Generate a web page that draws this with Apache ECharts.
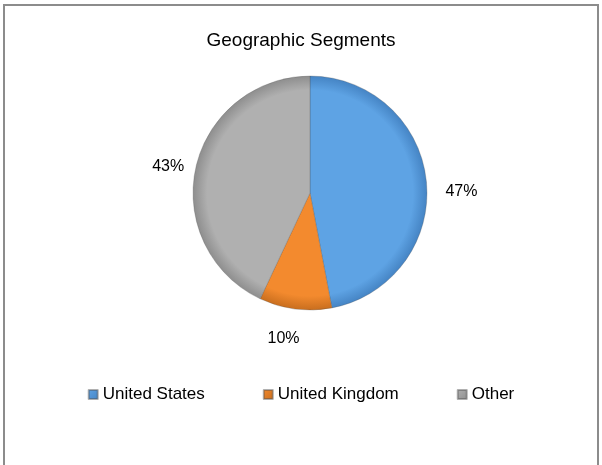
<!DOCTYPE html>
<html>
<head>
<meta charset="utf-8">
<script src="https://cdn.jsdelivr.net/npm/echarts@6/dist/echarts.min.js"></script>
<style>
  html, body { margin: 0; padding: 0; background: #fff; overflow: hidden; }
  #chart { width: 602px; height: 465px; }
</style>
</head>
<body>
<div id="chart"></div>
<script>
const regions = ['United States', 'United Kingdom', 'Other'];
const shares = [47, 10, 43];
const baseColors = ['#5ea3e4', '#f38a2e', '#b0b0b0'];
const edgeColors = ['#4584c4', '#c96e1e', '#8e8e8e'];

const FONT = "'Liberation Sans Narrow', 'Arial Narrow', 'Liberation Sans', sans-serif";
const CX = 310, CY = 193, R = 117;

// per-label nudges so the labels sit where Excel put them
const labelShift = [[-4, 11], [15, 16], [11, 2]];

function shade(i) {
    return {
        type: 'radial', x: CX, y: CY, r: R, global: true,
        colorStops: [
            { offset: 0, color: baseColors[i] },
            { offset: 0.88, color: baseColors[i] },
            { offset: 1, color: edgeColors[i] }
        ]
    };
}

function iconShade(i) {
    return {
        type: 'linear', x: 0, y: 0, x2: 1, y2: 1,
        colorStops: [
            { offset: 0, color: baseColors[i] },
            { offset: 1, color: edgeColors[i] }
        ]
    };
}

const chart = echarts.init(document.getElementById('chart'));
chart.setOption({
    animation: false,
    color: baseColors,
    title: {
        text: 'Geographic Segments', left: 'center', top: 26,
        textStyle: { fontFamily: FONT, fontSize: 19, fontWeight: 'normal', color: '#000' }
    },
    legend: {
        bottom: 57, left: 'center', itemGap: 58,
        icon: 'rect', itemWidth: 9, itemHeight: 9,
        textStyle: { fontFamily: FONT, fontSize: 17, color: '#000' },
        data: regions.map((name, i) => ({ name, itemStyle: { color: iconShade(i) } }))
    },
    graphic: [{
        type: 'rect', silent: true,
        shape: { x: 4, y: 5, width: 594, height: 520 },
        style: { fill: 'none', stroke: '#8c8c8c', lineWidth: 2 }
    }],
    series: [{
        type: 'pie',
        center: [CX, CY],
        radius: R,
        startAngle: 90,
        clockwise: true,
        itemStyle: { borderColor: 'rgba(80,80,80,0.45)', borderWidth: 0.6 },
        label: {
            show: true, position: 'outside',
            formatter: '{c}%',
            fontFamily: FONT, fontSize: 16, color: '#000'
        },
        labelLine: { show: false, length: 14, length2: 4 },
        labelLayout: params => ({
            dx: labelShift[params.dataIndex][0],
            dy: labelShift[params.dataIndex][1]
        }),
        data: regions.map((name, i) => ({
            name, value: shares[i],
            itemStyle: { color: shade(i) }
        }))
    }]
});
</script>
</body>
</html>
